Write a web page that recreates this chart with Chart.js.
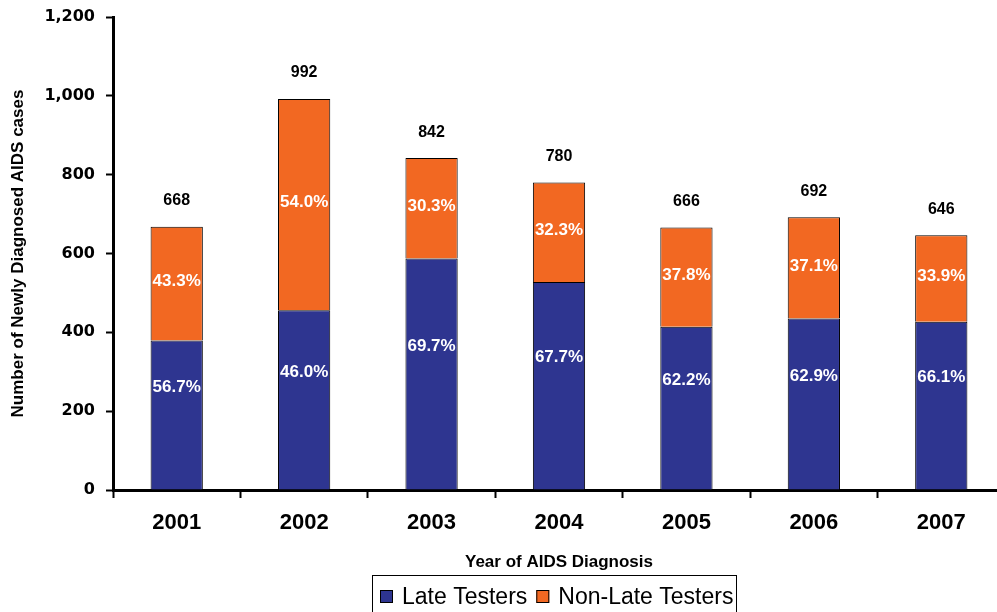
<!DOCTYPE html>
<html>
<head>
<meta charset="utf-8">
<script src="https://cdn.jsdelivr.net/npm/chart.js@4.4.1/dist/chart.umd.min.js"></script>
<style>
  html, body { margin: 0; padding: 0; background: #fff; overflow: hidden; }
  #wrap { width: 997px; height: 612px; overflow: hidden; position: relative; }
  canvas { display: block; }
</style>
</head>
<body>
<div id="wrap"><canvas id="grafico" width="1010" height="612"></canvas></div>
<script>
const anos = ['2001', '2002', '2003', '2004', '2005', '2006', '2007'];
const lateTesters = [379, 456, 587, 528, 414, 435, 427];
const nonLateTesters = [289, 536, 255, 252, 252, 257, 219];
const latePct = ['56.7%', '46.0%', '69.7%', '67.7%', '62.2%', '62.9%', '66.1%'];
const nonLatePct = ['43.3%', '54.0%', '30.3%', '32.3%', '37.8%', '37.1%', '33.9%'];
const yTicks = [0, 200, 400, 600, 800, 1000, 1200];

const corAzul = '#2E3590';
const corLaranja = '#F26822';
const fonte = '"Liberation Sans", Arial, sans-serif';
const fonteLarga = '"DejaVu Sans", sans-serif';

// rotulos dentro das barras e totais em cima
const rotulosPlugin = {
  id: 'rotulos',
  afterDatasetsDraw(chart) {
    const ctx = chart.ctx;
    ctx.save();
    ctx.textAlign = 'center';
    ctx.textBaseline = 'middle';
    const pcts = [latePct, nonLatePct];
    chart.data.datasets.forEach((ds, di) => {
      const meta = chart.getDatasetMeta(di);
      meta.data.forEach((bar, i) => {
        const { x, y, base } = bar.getProps(['x', 'y', 'base'], true);
        const offset = di === 0 ? -28 : -2;
        ctx.fillStyle = '#fff';
        ctx.font = 'bold 17px ' + fonte;
        ctx.fillText(pcts[di][i], x, (y + base) / 2 + offset);
      });
    });
    const topo = chart.getDatasetMeta(1);
    topo.data.forEach((bar, i) => {
      const total = lateTesters[i] + nonLateTesters[i];
      ctx.fillStyle = '#000';
      ctx.font = 'bold 16px ' + fonte;
      ctx.fillText(String(total), bar.x, bar.y - 26);
    });
    ctx.restore();
  }
};

// legenda com moldura, como no original
const legendaPlugin = {
  id: 'legendaMoldura',
  afterDraw(chart) {
    const ctx = chart.ctx;
    ctx.save();
    ctx.strokeStyle = '#000';
    ctx.lineWidth = 1;
    ctx.strokeRect(372.5, 575.5, 364, 45);
    ctx.font = '23px ' + fonte;
    ctx.textBaseline = 'middle';
    let x = 380;
    const yc = 597;
    chart.data.datasets.forEach(ds => {
      ctx.fillStyle = ds.backgroundColor;
      ctx.fillRect(x, yc - 7, 13, 13);
      ctx.strokeStyle = '#000';
      ctx.strokeRect(x + 0.5, yc - 6.5, 12, 12);
      x += 22;
      ctx.fillStyle = '#000';
      ctx.fillText(ds.label, x, yc + 1);
      x += ctx.measureText(ds.label).width + 9;
    });
    ctx.restore();
  }
};

new Chart(document.getElementById('grafico'), {
  type: 'bar',
  data: {
    labels: anos,
    datasets: [
      {
        label: 'Late Testers',
        data: lateTesters,
        backgroundColor: corAzul,
        borderColor: '#000',
        borderWidth: 1,
        barPercentage: 0.41,
        categoryPercentage: 1
      },
      {
        label: 'Non-Late Testers',
        data: nonLateTesters,
        backgroundColor: corLaranja,
        borderColor: '#000',
        borderWidth: 1,
        barPercentage: 0.41,
        categoryPercentage: 1
      }
    ]
  },
  options: {
    responsive: false,
    animation: false,
    devicePixelRatio: 1,
    layout: { padding: { left: 0, right: 5, top: 17, bottom: 0 } },
    plugins: {
      legend: { display: false },
      tooltip: { enabled: false }
    },
    scales: {
      x: {
        stacked: true,
        afterFit(scale) { scale.height = 122; },
        grid: { drawOnChartArea: false, tickLength: 8, tickColor: '#000', tickWidth: 2 },
        border: { color: '#000', width: 3 },
        ticks: { color: '#000', padding: 12, font: { family: fonte, size: 22, weight: 'bold' } },
        title: {
          display: true,
          text: 'Year of AIDS Diagnosis',
          color: '#000',
          font: { family: fonte, size: 17, weight: 'bold' },
          padding: { top: 4, bottom: 39 }
        }
      },
      y: {
        stacked: true,
        min: 0,
        max: 1200,
        afterFit(scale) {
          scale.width = 113;
          scale.paddingTop = 0;
          scale.paddingBottom = 0;
        },
        afterBuildTicks(scale) { scale.ticks = yTicks.map(v => ({ value: v })); },
        grid: { drawOnChartArea: false, tickLength: 7, tickColor: '#000', tickWidth: 2 },
        border: { color: '#000', width: 3 },
        ticks: {
          color: '#000',
          padding: 11,
          font: { family: fonteLarga, size: 16, weight: 'bold' },
          callback: v => v.toLocaleString('en-US')
        },
        title: {
          display: true,
          text: 'Number of Newly Diagnosed AIDS cases',
          color: '#000',
          font: { family: fonte, size: 17, weight: 'bold' },
          padding: { top: 8, bottom: 4 }
        }
      }
    }
  },
  plugins: [rotulosPlugin, legendaPlugin]
});
</script>
</body>
</html>
